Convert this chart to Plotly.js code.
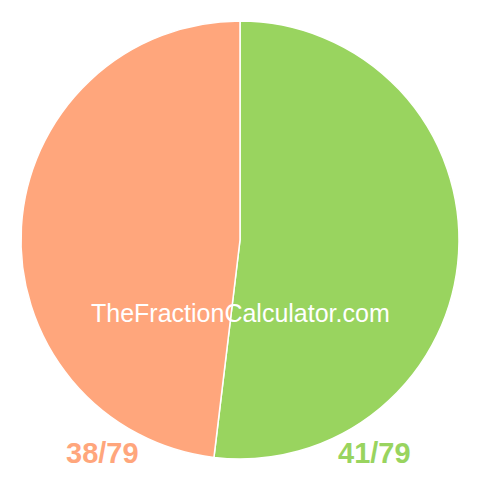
<!DOCTYPE html>
<html>
<head>
<meta charset="utf-8">
<script src="https://cdn.plot.ly/plotly-3.0.1.min.js"></script>
<style>
  html, body { margin: 0; padding: 0; background: #fff; }
  #chart { width: 480px; height: 480px; }
</style>
</head>
<body>
<div id="chart"></div>
<script>
// -----------------------
// Datos
// -----------------------
const fractionLabels = ["41/79", "38/79"];
const fractionValues = [41, 38];
const sliceColors = ["#99d45f", "#ffa67c"];
const watermark = "TheFractionCalculator.com";

const FONT = "Liberation Sans, Arial, Helvetica, sans-serif";

// -----------------------
// Pie
// -----------------------
const trace = {
  type: "pie",
  labels: fractionLabels,
  values: fractionValues,
  sort: false,
  direction: "clockwise",
  rotation: 0,
  textinfo: "none",
  hoverinfo: "label+value",
  marker: { colors: sliceColors, line: { color: "#ffffff", width: 1.5 } },
  showlegend: false
};

// etiquetas abajo: verde a la derecha, naranja a la izquierda
const annotations = [
  {
    text: watermark, xref: "paper", yref: "paper", x: 0.5, y: 0.333,
    xanchor: "center", yanchor: "middle", showarrow: false,
    font: { family: FONT, size: 25, color: "#ffffff" }
  },
  {
    text: "<b>" + fractionLabels[0] + "</b>", xref: "paper", yref: "paper", x: 0.808, y: 0.016,
    xanchor: "center", yanchor: "middle", showarrow: false,
    font: { family: FONT, size: 29, color: sliceColors[0] }
  },
  {
    text: "<b>" + fractionLabels[1] + "</b>", xref: "paper", yref: "paper", x: 0.187, y: 0.016,
    xanchor: "center", yanchor: "middle", showarrow: false,
    font: { family: FONT, size: 29, color: sliceColors[1] }
  }
];

Plotly.newPlot("chart", [trace], {
  width: 480,
  height: 480,
  margin: { l: 21, r: 21, t: 20, b: 20 },
  paper_bgcolor: "#ffffff",
  annotations: annotations
}, { displayModeBar: false, staticPlot: true });
</script>
</body>
</html>
